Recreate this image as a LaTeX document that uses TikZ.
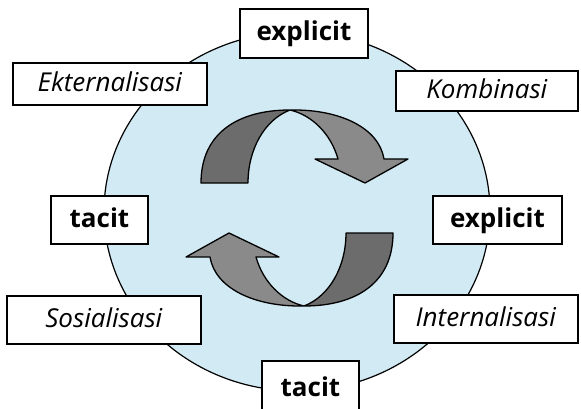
\documentclass[tikz,border=0pt]{standalone}
\usepackage{fontspec}
\setmainfont{Open Sans}
\usetikzlibrary{shapes.geometric}
\definecolor{bluefill}{RGB}{210,234,244}
\definecolor{darkg}{RGB}{108,108,108}
\definecolor{lightg}{RGB}{138,138,138}
\tikzset{
  lbl/.style={draw=black, line width=1.5pt, fill=white, inner sep=0pt,
    font=\fontsize{26}{30}\selectfont, text height=20pt, text depth=5pt},
  bandpart/.style={draw=black, line width=1.3pt, line join=round}
}
\newcommand{\bentarrow}{%
  \fill[darkg] (201,183) .. controls (201,133) and (238,110) .. (290,110)
     .. controls (264,120) and (248,150) .. (248,183) -- cycle;
  \fill[lightg] (290,110) .. controls (340,109) and (379,128) .. (384,159)
     -- (408,159) -- (365,183) -- (315,159) -- (338,159)
     .. controls (331,134) and (312,115) .. (290,110) -- cycle;
  \draw[bandpart] (201,183) .. controls (201,133) and (238,110) .. (290,110)
     .. controls (340,109) and (379,128) .. (384,159)
     -- (408,159) -- (365,183) -- (315,159) -- (338,159)
     .. controls (331,134) and (312,115) .. (290,110)
     .. controls (264,120) and (248,150) .. (248,183) -- cycle;
}
\begin{document}
\begin{tikzpicture}[x=1pt,y=-1pt]
\useasboundingbox (0,0) rectangle (581,409);
\clip (0,0) rectangle (581,409);
\node[ellipse, draw=black, line width=1.2pt, fill=bluefill, inner sep=0pt,
  minimum width=386pt, minimum height=359pt] (circ) at (297,211.5) {};
\begin{scope}
  \bentarrow
\end{scope}
\begin{scope}[rotate around={180:(297,208)}]
  \bentarrow
\end{scope}
\node[lbl, minimum width=128pt, minimum height=49pt] (expT) at (304,33.5) {\textbf{explicit}};
\node[lbl, minimum width=194pt, minimum height=42pt] (ekst) at (110,84) {\textit{Ekternalisasi}};
\node[lbl, minimum width=182pt, minimum height=40pt] (komb) at (487,91) {\textit{Kombinasi}};
\node[lbl, minimum width=97pt, minimum height=48pt] (tacL) at (99.5,220) {\textbf{tacit}};
\node[lbl, minimum width=129pt, minimum height=48pt] (expR) at (497.5,220) {\textbf{explicit}};
\node[lbl, minimum width=194pt, minimum height=48pt] (sosi) at (104,320) {\textit{Sosialisasi}};
\node[lbl, minimum width=184pt, minimum height=48pt] (inte) at (486,319) {\textit{Internalisasi}};
\node[lbl, minimum width=97pt, minimum height=56pt] (tacB) at (310.5,389) {\textbf{tacit}};
\end{tikzpicture}
\end{document}
